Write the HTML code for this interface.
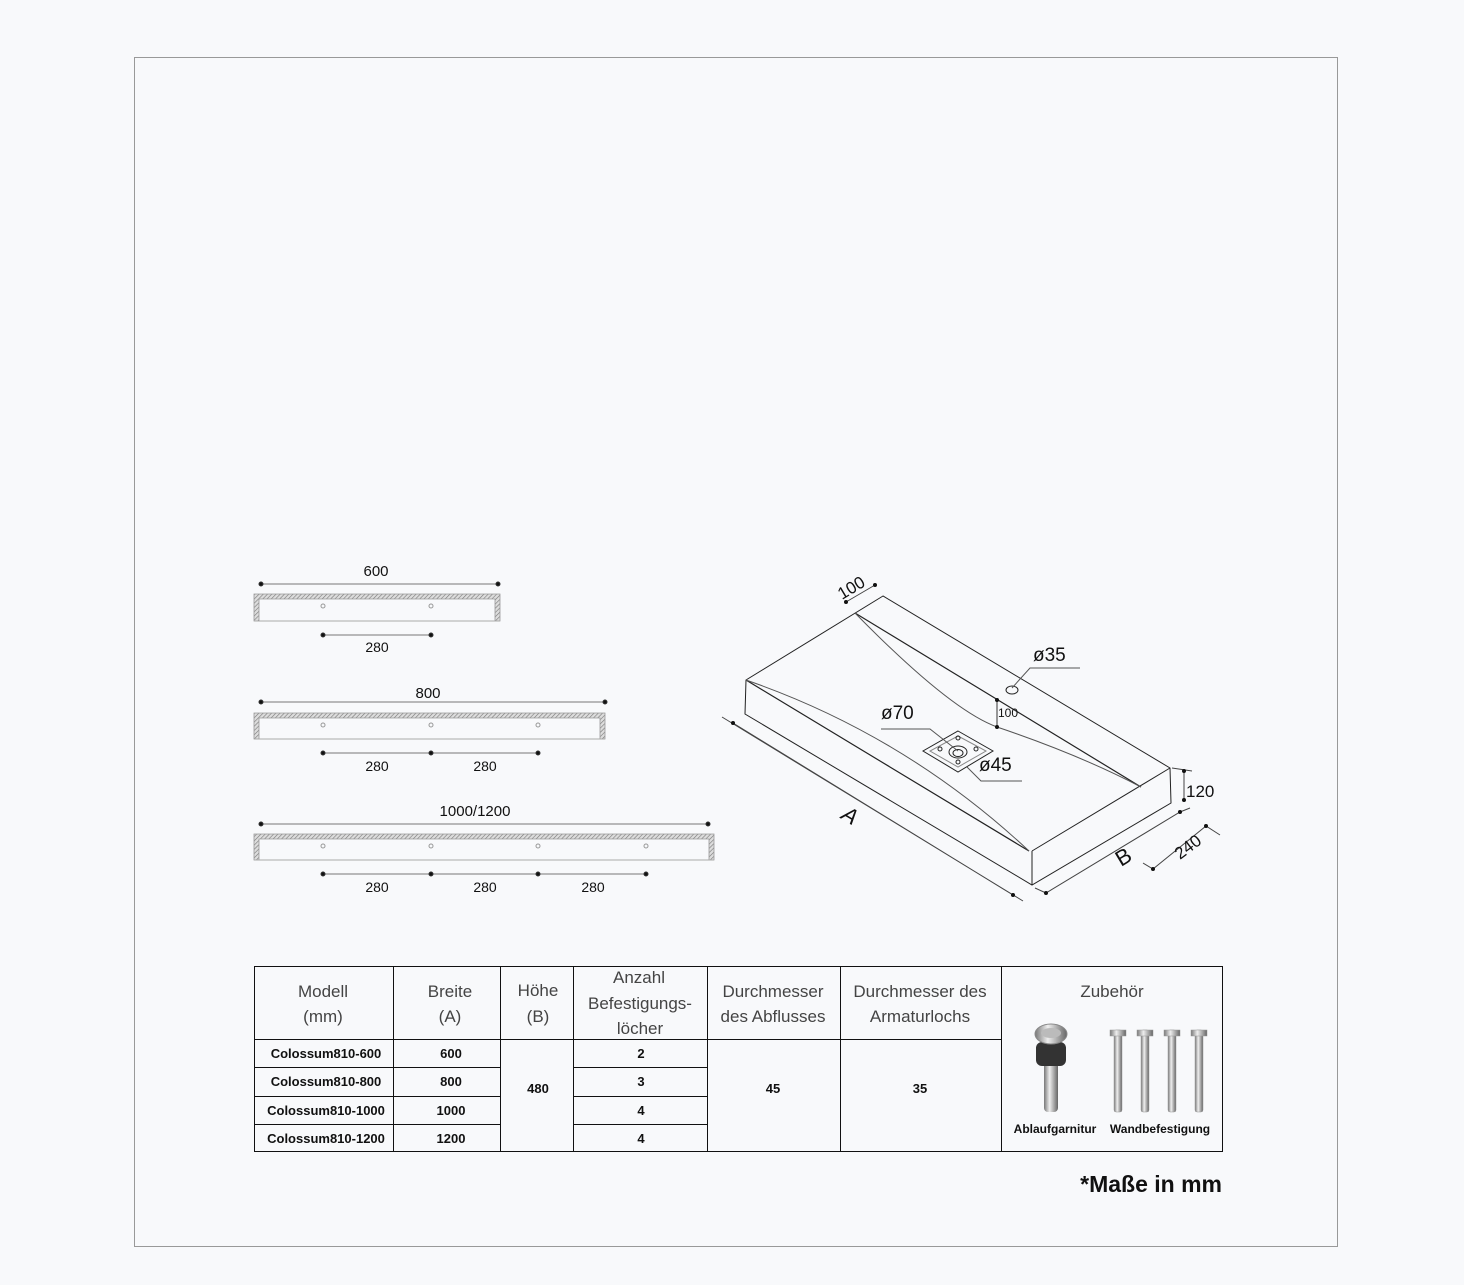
<!DOCTYPE html>
<html><head><meta charset="utf-8"><style>
html,body{margin:0;padding:0;background:#f8f9fb;}
svg{display:block;font-family:"Liberation Sans",sans-serif;}
</style></head><body>
<svg width="1464" height="1285" viewBox="0 0 1464 1285" xmlns="http://www.w3.org/2000/svg">
<defs>
<pattern id="h" width="3" height="3" patternUnits="userSpaceOnUse" patternTransform="rotate(45)"><rect width="3" height="3" fill="#ddd"/><line x1="0" y1="0" x2="0" y2="3" stroke="#777" stroke-width="1.2"/></pattern>
<linearGradient id="m" x1="0" x2="1"><stop offset="0" stop-color="#777"/><stop offset=".4" stop-color="#eee"/><stop offset="1" stop-color="#666"/></linearGradient>
</defs>
<rect x="0" y="0" width="1464" height="1285" fill="#f8f9fb"/>
<rect x="134.5" y="57.5" width="1203" height="1189" fill="none" stroke="#999" stroke-width="1"/>

<g stroke="#333" fill="#111" font-size="15">
<line x1="261" y1="584" x2="498" y2="584" stroke="#777"/><circle cx="261" cy="584" r="2"/><circle cx="498" cy="584" r="2"/>
<text x="376" y="576" text-anchor="middle" stroke="none">600</text>
<path d="M254,594H500V621H495V599H259V621H254Z" fill="url(#h)" stroke="#999" stroke-width=".8"/>
<line x1="254" y1="621" x2="500" y2="621" stroke="#aaa"/>
<circle cx="323" cy="606" r="2" fill="none" stroke="#999"/><circle cx="431" cy="606" r="2" fill="none" stroke="#999"/>
<line x1="323" y1="635" x2="431" y2="635" stroke="#777"/><circle cx="323" cy="635" r="2"/><circle cx="431" cy="635" r="2"/>
<text x="377" y="652" text-anchor="middle" stroke="none" font-size="14">280</text>
<line x1="261" y1="702" x2="605" y2="702" stroke="#777"/><circle cx="261" cy="702" r="2"/><circle cx="605" cy="702" r="2"/>
<text x="428" y="698" text-anchor="middle" stroke="none">800</text>
<path d="M254,713H605V739H600V718H259V739H254Z" fill="url(#h)" stroke="#999" stroke-width=".8"/>
<line x1="254" y1="739" x2="605" y2="739" stroke="#aaa"/>
<circle cx="323" cy="725" r="2" fill="none" stroke="#999"/><circle cx="431" cy="725" r="2" fill="none" stroke="#999"/><circle cx="538" cy="725" r="2" fill="none" stroke="#999"/>
<line x1="323" y1="753" x2="538" y2="753" stroke="#777"/><circle cx="323" cy="753" r="2"/><circle cx="431" cy="753" r="2"/><circle cx="538" cy="753" r="2"/>
<text x="377" y="771" text-anchor="middle" stroke="none" font-size="14">280</text><text x="485" y="771" text-anchor="middle" stroke="none" font-size="14">280</text>
<line x1="261" y1="824" x2="708" y2="824" stroke="#777"/><circle cx="261" cy="824" r="2"/><circle cx="708" cy="824" r="2"/>
<text x="475" y="816" text-anchor="middle" stroke="none">1000/1200</text>
<path d="M254,834H714V860H709V839H259V860H254Z" fill="url(#h)" stroke="#999" stroke-width=".8"/>
<line x1="254" y1="860" x2="714" y2="860" stroke="#aaa"/>
<circle cx="323" cy="846" r="2" fill="none" stroke="#999"/><circle cx="431" cy="846" r="2" fill="none" stroke="#999"/><circle cx="538" cy="846" r="2" fill="none" stroke="#999"/><circle cx="646" cy="846" r="2" fill="none" stroke="#999"/>
<line x1="323" y1="874" x2="646" y2="874" stroke="#777"/><circle cx="323" cy="874" r="2"/><circle cx="431" cy="874" r="2"/><circle cx="538" cy="874" r="2"/><circle cx="646" cy="874" r="2"/>
<text x="377" y="892" text-anchor="middle" stroke="none" font-size="14">280</text><text x="485" y="892" text-anchor="middle" stroke="none" font-size="14">280</text><text x="593" y="892" text-anchor="middle" stroke="none" font-size="14">280</text>
</g>

<g stroke="#222" fill="none" stroke-width="1">
<path d="M883,596L746,680L745,714L1032,885L1171,803L1170,768Z"/>
<path d="M1032,851L1032,885M1032,851L1170,768"/>
<path d="M746,680L1029,851" stroke-width="1.2"/>
<path d="M746,680Q905,735 1029,851" stroke="#555"/>
<path d="M855,613L1141,787" stroke-width="1.2"/>
<path d="M855,613Q950,710 997,727Q1080,755 1141,787" stroke="#555"/>
<path d="M958,731L993,751L958,772L923,751Z"/>
<path d="M958,736L986,751L958,767L930,751Z" stroke="#888"/>
<ellipse cx="958" cy="752" rx="9" ry="6"/><ellipse cx="958" cy="753" rx="5" ry="3.5"/>
<circle cx="958" cy="738" r="2"/><circle cx="940" cy="749" r="2"/><circle cx="976" cy="749" r="2"/><circle cx="958" cy="762" r="2"/>
<ellipse cx="1012" cy="690" rx="6" ry="4"/>
<path d="M1012,688L1030,668H1080" stroke="#555"/>
<path d="M881,729H930L958,751" stroke="#555"/>
<path d="M967,767L981,781H1022" stroke="#555"/>
<path d="M997,700V727" stroke="#333"/>
<path d="M846,602L875,585" stroke="#444"/>
<path d="M722,717L1023,901M733,723L1013,895" stroke="#444"/>
<path d="M1035,888L1046,893L1180,812L1190,808" stroke="#444"/>
<path d="M1184,771V800" stroke="#444"/><path d="M1172,768L1192,771" stroke="#444"/>
<path d="M1143,863L1153,869L1206,826L1220,835" stroke="#444"/>
</g>
<g fill="#111">
<circle cx="997" cy="700" r="2"/><circle cx="997" cy="727" r="2"/>
<circle cx="846" cy="602" r="2"/><circle cx="875" cy="585" r="2"/>
<circle cx="733" cy="723" r="2"/><circle cx="1013" cy="895" r="2"/>
<circle cx="1046" cy="893" r="2"/><circle cx="1180" cy="812" r="2"/>
<circle cx="1184" cy="771" r="2"/><circle cx="1184" cy="800" r="2"/>
<circle cx="1153" cy="869" r="2"/><circle cx="1206" cy="826" r="2"/>
</g>
<g fill="#111" font-size="19">
<text x="1033" y="661">ø35</text>
<text x="881" y="719">ø70</text>
<text x="979" y="771">ø45</text>
<text x="998" y="717" font-size="12">100</text>
<text x="1186" y="797" font-size="17">120</text>
<text transform="translate(842,600) rotate(-31)" font-size="17">100</text>
<text transform="translate(1180,860) rotate(-37)" font-size="17">240</text>
<text transform="translate(840,818) rotate(31)" font-size="22" font-style="italic">A</text>
<text transform="translate(1121,867) rotate(-31)" font-size="22">B</text>
</g>

<g stroke="#111" stroke-width="1" fill="none">
<rect x="254.5" y="966.5" width="968" height="185"/>
<path d="M393.5,966V1152M500.5,966V1152M573.5,966V1152M707.5,966V1152M840.5,966V1152M1001.5,966V1152"/>
<path d="M254,1039.5H1001M254,1067.5H500M573,1067.5H707M254,1096.5H500M573,1096.5H707M254,1124.5H500M573,1124.5H707"/>
</g>
<g fill="#444" font-size="17" text-anchor="middle">
<text x="323" y="997">Modell</text><text x="323" y="1022">(mm)</text>
<text x="450" y="997">Breite</text><text x="450" y="1022">(A)</text>
<text x="538" y="996">Höhe</text><text x="538" y="1022">(B)</text>
<text x="639" y="983">Anzahl</text><text x="640" y="1009">Befestigungs-</text><text x="640" y="1034">löcher</text>
<text x="773" y="997">Durchmesser</text><text x="773" y="1022">des Abflusses</text>
<text x="920" y="997">Durchmesser des</text><text x="920" y="1022">Armaturlochs</text>
<text x="1112" y="997">Zubehör</text>
</g>
<g fill="#111" font-size="13" text-anchor="middle" font-weight="bold">
<text x="326" y="1058">Colossum810-600</text><text x="451" y="1058">600</text><text x="641" y="1058">2</text>
<text x="326" y="1086">Colossum810-800</text><text x="451" y="1086">800</text><text x="641" y="1086">3</text>
<text x="326" y="1115">Colossum810-1000</text><text x="451" y="1115">1000</text><text x="641" y="1115">4</text>
<text x="326" y="1143">Colossum810-1200</text><text x="451" y="1143">1200</text><text x="641" y="1143">4</text>
<text x="538" y="1093">480</text><text x="773" y="1093">45</text><text x="920" y="1093">35</text>
<text x="1055" y="1133" font-size="12">Ablaufgarnitur</text>
<text x="1160" y="1133" font-size="12">Wandbefestigung</text>
</g>
<g>
<rect x="1044" y="1060" width="14" height="52" rx="4" fill="url(#m)"/>
<rect x="1036" y="1042" width="30" height="24" rx="6" fill="#333"/>
<ellipse cx="1051" cy="1034" rx="16" ry="10" fill="url(#m)" stroke="#888"/>
<ellipse cx="1051" cy="1033" rx="10" ry="5" fill="#bbb"/>
<g fill="url(#m)" stroke="#999" stroke-width=".5">
<rect x="1114" y="1030" width="8" height="82" rx="2"/><rect x="1141" y="1030" width="8" height="82" rx="2"/><rect x="1168" y="1030" width="8" height="82" rx="2"/><rect x="1195" y="1030" width="8" height="82" rx="2"/>
<rect x="1110" y="1030" width="16" height="6"/><rect x="1137" y="1030" width="16" height="6"/><rect x="1164" y="1030" width="16" height="6"/><rect x="1191" y="1030" width="16" height="6"/>
</g>
</g>
<text x="1222" y="1192" text-anchor="end" font-size="23" font-weight="bold" fill="#111">*Maße in mm</text>
</svg>
</body></html>
